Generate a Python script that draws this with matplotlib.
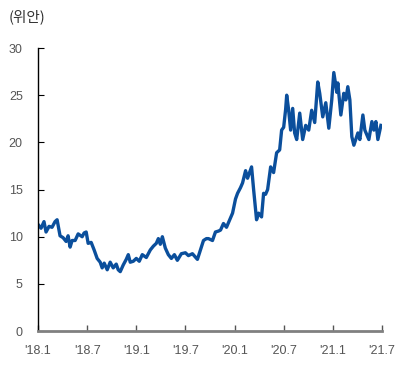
import matplotlib
matplotlib.use("Agg")
import matplotlib.pyplot as plt

# months since 2018-01
months = [0.0, 0.37, 0.73, 0.98, 1.35, 1.71, 2.08, 2.33, 2.69, 3.06, 3.43, 3.67, 3.92, 4.16,
          4.53, 4.90, 5.39, 5.63, 5.88, 6.12, 6.49, 6.85, 7.22, 7.59, 7.83, 8.08, 8.45, 8.81,
          9.18, 9.55, 9.79, 10.04, 10.40, 10.77, 11.02, 11.26, 11.63, 12.0, 12.36, 12.73,
          13.22, 13.71, 14.08, 14.44, 14.69, 14.93, 15.18, 15.54, 15.91, 16.28, 16.65, 17.01,
          17.50, 17.99, 18.36, 18.85, 19.46, 19.83, 20.20, 20.56, 20.81, 21.30, 21.66, 22.03,
          22.28, 22.64, 23.01, 23.50, 23.75, 24.11, 24.36, 24.72, 24.97, 25.34, 25.58, 25.83,
          26.07, 26.32, 26.68, 26.93, 27.29, 27.54, 27.78, 28.03, 28.40, 28.76, 29.13, 29.50,
          29.74, 29.99, 30.23, 30.36, 30.60, 30.84, 31.09, 31.33, 31.58, 31.95, 32.31, 32.68,
          33.05, 33.41, 33.78, 34.15, 34.39, 34.76, 35.13, 35.50, 35.86, 36.11, 36.48, 36.60,
          36.97, 37.33, 37.58, 37.82, 38.07, 38.31, 38.56, 39.05, 39.29, 39.66, 39.90, 40.39,
          40.76, 41.00, 41.25, 41.49, 41.86]

price = [11.3, 10.9, 11.6, 10.5, 11.1, 11.0, 11.6, 11.8, 10.1, 9.9, 9.5, 10.1, 8.9, 9.6,
         9.6, 10.3, 10.0, 10.4, 10.5, 9.3, 9.4, 8.6, 7.7, 7.3, 6.7, 7.2, 6.5, 7.3,
         6.7, 7.1, 6.5, 6.3, 7.0, 7.6, 8.1, 7.3, 7.4, 7.7, 7.4, 8.1,
         7.8, 8.6, 9.0, 9.3, 9.8, 9.2, 10.0, 8.8, 8.1, 7.7, 8.1, 7.5,
         8.2, 8.3, 8.0, 8.2, 7.6, 8.6, 9.6, 9.8, 9.8, 9.6, 10.5, 10.6,
         10.7, 11.4, 11.0, 12.0, 12.5, 14.0, 14.6, 15.2, 15.7, 17.0, 16.2, 16.8,
         17.4, 15.0, 11.8, 12.5, 12.1, 14.6, 14.5, 15.0, 17.4, 16.8, 18.9, 19.2,
         21.3, 21.6, 23.5, 25.0, 23.4, 21.3, 23.6, 21.0, 20.3, 23.1, 20.3, 21.8,
         21.3, 23.4, 22.1, 26.4, 25.2, 22.7, 24.2, 21.5, 24.5, 27.4, 25.3, 26.3,
         22.9, 25.2, 24.5, 25.9, 24.5, 20.6, 19.7, 21.0, 20.3, 22.9, 21.3, 20.3,
         22.2, 21.3, 22.2, 20.3, 21.8]

tick_months = [0, 6, 12, 18, 24, 30, 36, 42]
tick_labels = ["'18.1", "'18.7", "'19.1", "'19.7", "'20.1", "'20.7", "'21.1", "'21.7"]

plt.rcParams['font.family'] = ['Liberation Sans', 'Noto Sans CJK KR', 'DejaVu Sans']

fig = plt.figure(figsize=(4.15, 3.81), dpi=100)
ax = fig.add_axes([0.0916, 0.131, 0.829, 0.743])

ax.plot(months, price, color='#0b4f9c', lw=2.4, solid_joinstyle='round')

ax.set_xlim(0, 42)
ax.set_ylim(0, 30)
ax.set_yticks(range(0, 31, 5))
ax.set_xticks(tick_months)
ax.set_xticklabels(tick_labels)

for s in ['top', 'right']:
    ax.spines[s].set_visible(False)
ax.spines['left'].set_color('black')
ax.spines['left'].set_linewidth(1.0)
ax.spines['bottom'].set_color('#808080')
ax.spines['bottom'].set_linewidth(2.0)

ax.tick_params(axis='y', direction='in', length=4, width=0.8, color='black',
               labelsize=9, labelcolor='#555555', pad=11)
ax.tick_params(axis='x', direction='in', length=4, width=1.0, color='#555555',
               labelsize=9, labelcolor='#555555', pad=10)

fig.text(0.02, 0.955, '(위안)', fontsize=10.5, color='#333333',
         family=['Noto Sans CJK KR', 'DejaVu Sans'], va='center', ha='left')

fig.savefig('out.png', dpi=100)
